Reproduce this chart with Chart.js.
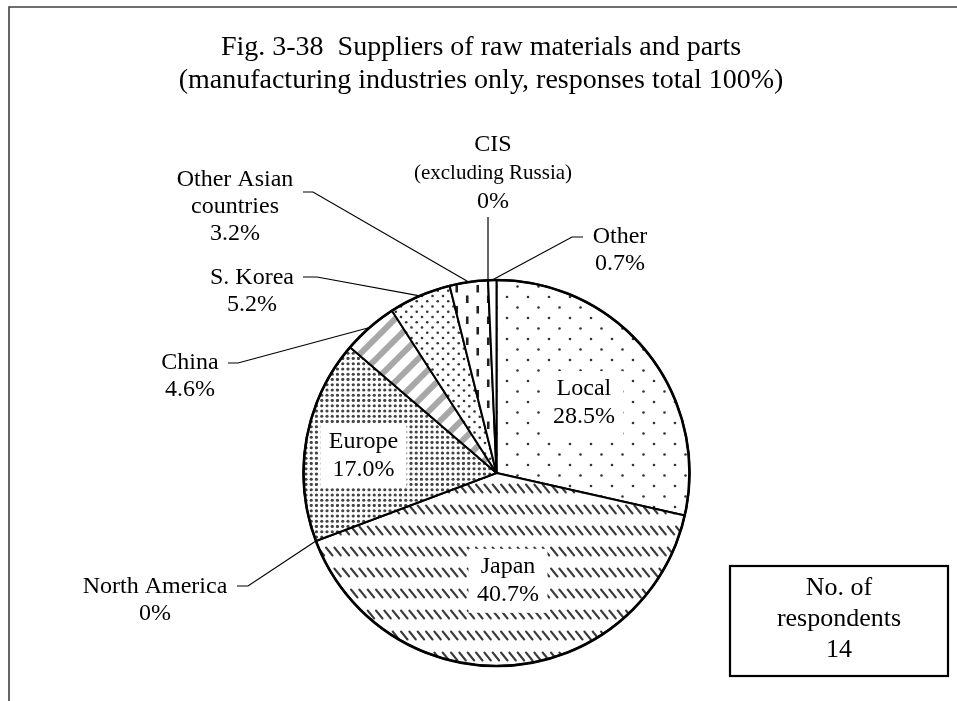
<!DOCTYPE html>
<html>
<head>
<meta charset="utf-8">
<title>Suppliers of raw materials and parts</title>
<script src="https://cdn.jsdelivr.net/npm/chart.js@4"></script>
<style>
html, body { margin: 0; padding: 0; background: #fff; }
#wrap { width: 957px; height: 701px; }
</style>
</head>
<body>
<div id="wrap"><canvas id="pieChart" width="957" height="701"></canvas></div>
<script>
const suppliers = ['Local', 'Japan', 'North America', 'Europe', 'China', 'S. Korea', 'Other Asian countries', 'CIS (excluding Russia)', 'Other'];
const shares = [28.5, 40.7, 0, 17.0, 4.6, 5.2, 3.2, 0, 0.7];
const labelNames = [['Local'], ['Japan'], ['North America'], ['Europe'], ['China'], ['S. Korea'], ['Other Asian', 'countries'], ['CIS', '(excluding Russia)'], ['Other']];
const titleLines = ['Fig. 3-38  Suppliers of raw materials and parts', '(manufacturing industries only, responses total 100%)'];
const respondentLines = ['No. of', 'respondents', '14'];

// label layout: inside labels sit on the slice's mid angle, outside ones get a leader line
const labelPlace = [
  { inside: 0.58 },
  { inside: 0.56, dx: 4 },
  { x: 155, y: 587, from: 237, elbow: 248, stubY: 586 },
  { inside: 0.70, dy: 6 },
  { x: 190, y: 363, from: 228, elbow: 238, stubY: 363 },
  { x: 252, y: 278, from: 303, elbow: 317, stubY: 277 },
  { x: 235, y: 180, from: 303, elbow: 313, stubY: 192 },
  { x: 493, y: 145, lineH: 28.5, topY: 217 },
  { x: 620, y: 237, from: 583, elbow: 572, stubY: 237 }
];

const FONT = '"Liberation Serif", "Times New Roman", serif';
const canvas = document.getElementById('pieChart');
const ctx = canvas.getContext('2d');
const T = 21;

function tile(draw, w = T, hgt = T) {
  const t = document.createElement('canvas');
  t.width = w; t.height = hgt;
  const g = t.getContext('2d');
  g.fillStyle = '#fff';
  g.fillRect(0, 0, w, hgt);
  draw(g);
  return ctx.createPattern(t, 'repeat');
}

function dots(g, pts, r, color) {
  g.fillStyle = color;
  pts.forEach(([x, y]) => {
    for (let ox = -T; ox <= T; ox += T) {
      for (let oy = -T; oy <= T; oy += T) {
        g.beginPath();
        g.arc(x + ox, y + oy, r, 0, Math.PI * 2);
        g.fill();
      }
    }
  });
}

const h = T / 2, q = T / 4;

const sparseDots = tile(g => dots(g, [[3, 3], [3 + h, 3 + h]], 1.3, '#333'));

// rows of short "\" strokes
const DW = 25;
const diagDashes = tile(g => {
  g.strokeStyle = '#3a3a3a';
  g.lineWidth = 2;
  g.lineCap = 'round';
  const step = DW / 3;
  for (let x = -step; x <= DW; x += step) {
    g.beginPath();
    g.moveTo(x + 1, 1.5);
    g.lineTo(x + 7.5, 9.5);
    g.stroke();
  }
}, DW, T);

const denseDots = tile(g => {
  const pts = [];
  for (let i = 0; i < 4; i++) for (let j = 0; j < 4; j++) pts.push([i * q + 1.5, j * q + 1.5]);
  dots(g, pts, 1.6, '#444');
});

const wideStripes = tile(g => {
  g.strokeStyle = '#a8a8a8';
  g.lineWidth = 6;
  for (let c = -T; c <= 2 * T; c += T) {
    g.beginPath();
    g.moveTo(c + 2, -2);
    g.lineTo(c - T - 2, T + 2);
    g.stroke();
  }
});

const checkDots = tile(g => {
  const pts = [];
  for (let row = 0; row < 4; row++) {
    const off = row % 2 ? q : 0;
    pts.push([2 + off, 2 + row * q], [2 + off + h, 2 + row * q]);
  }
  dots(g, pts, 1.3, '#333');
});

const vertDashes = tile(g => {
  g.strokeStyle = '#222';
  g.lineWidth = 2.6;
  g.beginPath();
  g.moveTo(q, 1.5); g.lineTo(q, h - 1.5);
  g.moveTo(q + h, h + 1.5); g.lineTo(q + h, T - 1.5);
  g.stroke();
});

const fills = [sparseDots, diagDashes, '#fff', denseDots, wideStripes, checkDots, vertDashes, '#fff', '#fff'];

function valueText(v) {
  return v === 0 ? '0%' : v.toFixed(1) + '%';
}

function lineFont(text) {
  return (text.startsWith('(') && text.endsWith(')') && text.length > 5 ? '21px ' : '24px ') + FONT;
}

function drawLines(c, lines, x, y, lineH) {
  lines.forEach((t, i) => {
    c.font = lineFont(t);
    c.fillText(t, x, y + i * lineH);
  });
}

const decorations = {
  id: 'decorations',
  beforeDraw(chart) {
    const c = chart.ctx;
    c.save();
    c.fillStyle = '#fff';
    c.fillRect(0, 0, chart.width, chart.height);
    c.restore();
  },
  afterDatasetsDraw(chart) {
    const c = chart.ctx;
    const arcs = chart.getDatasetMeta(0).data;
    c.save();

    // frame
    c.strokeStyle = '#404040';
    c.lineWidth = 1.6;
    c.beginPath();
    c.moveTo(9, 701);
    c.lineTo(9, 7);
    c.lineTo(957, 7);
    c.stroke();

    // heavier rim round the pie
    const a0 = arcs[0].getProps(['x', 'y', 'outerRadius'], true);
    c.strokeStyle = '#000';
    c.lineWidth = 2.6;
    c.beginPath();
    c.arc(a0.x, a0.y, a0.outerRadius, 0, Math.PI * 2);
    c.stroke();

    // title
    c.fillStyle = '#000';
    c.textAlign = 'center';
    c.textBaseline = 'middle';
    c.font = '28px ' + FONT;
    c.fillText(titleLines[0], 481, 48);
    c.fillText(titleLines[1], 481, 81);

    arcs.forEach((arc, i) => {
      const p = arc.getProps(['x', 'y', 'startAngle', 'endAngle', 'outerRadius'], true);
      const mid = (p.startAngle + p.endAngle) / 2;
      const place = labelPlace[i];
      const lines = labelNames[i].concat([valueText(shares[i])]);
      c.strokeStyle = '#000';
      c.fillStyle = '#000';

      if (place.inside) {
        const lh = 28;
        const cx = p.x + Math.cos(mid) * p.outerRadius * place.inside + (place.dx || 0);
        const cy = p.y + Math.sin(mid) * p.outerRadius * place.inside + (place.dy || 0);
        c.font = '24px ' + FONT;
        const w = Math.max(...lines.map(t => c.measureText(t).width)) + 17;
        const bh = lines.length * lh + 8;
        c.fillStyle = '#fff';
        c.fillRect(cx - w / 2, cy - bh / 2, w, bh);
        c.fillStyle = '#000';
        drawLines(c, lines, cx, cy - (lines.length - 1) * lh / 2, lh);
        return;
      }

      const ex = p.x + Math.cos(mid) * p.outerRadius;
      const ey = p.y + Math.sin(mid) * p.outerRadius;
      c.lineWidth = 1.2;
      c.beginPath();
      if (place.topY) {
        c.moveTo(ex, place.topY);
      } else {
        c.moveTo(place.from, place.stubY);
        c.lineTo(place.elbow, place.stubY);
      }
      c.lineTo(ex, ey);
      c.stroke();
      drawLines(c, lines, place.x, place.y, place.lineH || 27);
    });

    // respondents box
    c.fillStyle = '#fff';
    c.fillRect(730, 566, 218, 110);
    c.strokeStyle = '#000';
    c.lineWidth = 2.2;
    c.strokeRect(730, 566, 218, 110);
    c.fillStyle = '#000';
    c.font = '26px ' + FONT;
    respondentLines.forEach((t, i) => c.fillText(t, 839, 588 + i * 31));

    c.restore();
  }
};

new Chart(canvas, {
  type: 'pie',
  data: {
    labels: suppliers,
    datasets: [{
      data: shares,
      backgroundColor: fills,
      borderColor: '#000',
      borderWidth: 2,
      borderJoinStyle: 'round'
    }]
  },
  options: {
    responsive: false,
    animation: false,
    events: [],
    layout: { padding: { left: 302, right: 266, top: 279, bottom: 34 } },
    plugins: {
      legend: { display: false },
      tooltip: { enabled: false },
      title: { display: false }
    }
  },
  plugins: [decorations]
});
</script>
</body>
</html>
